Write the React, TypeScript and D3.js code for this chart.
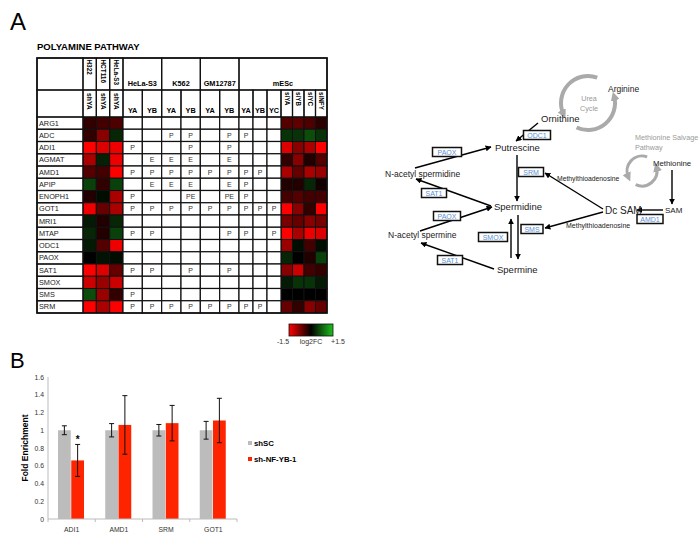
import * as d3 from "d3";

// ---- heatmap / table data ----
const genes = ["ARG1","ADC","ADI1","AGMAT","AMD1","APIP","ENOPH1","GOT1","MRI1","MTAP","ODC1","PAOX","SAT1","SMOX","SMS","SRM"];
const knockLines = ["H322","HCT116","HeLa-S3"];
// log2FC for shYA in each line (rows follow genes)
const knockFC = [
  [-0.3,-0.4,-0.45],[-0.3,-0.8,0.3],[-1.5,-1.3,-1.4],[-1.0,0.25,-1.4],
  [-0.5,-0.4,-1.5],[0.5,-0.3,0.5],[-0.2,0.1,-1.0],[-1.4,-0.6,-1.0],
  [0.2,-0.2,0.3],[0.3,-0.2,0.5],[0.2,-0.5,-1.4],[0,0.15,0.1],
  [-1.5,-1.3,-0.6],[-1.2,-0.9,-1.2],[0.6,-0.9,-0.3],[-1.5,-1.0,-1.5],
];
const mescSi = ["siYA","siYB","siYC","siNFY"];
const mescFC = [
  [-0.5,-0.55,-0.45,-0.25],[0.4,0.4,0.6,0.4],[-1.3,-0.8,-1.0,-1.5],[-0.3,-0.8,-0.2,-0.5],
  [-1.0,-0.6,-1.0,-0.9],[-0.2,-0.2,0.3,-0.1],[-0.4,-0.5,-0.4,-0.4],[-1.5,-0.8,-0.3,-1.5],
  [-0.7,-0.6,-0.8,-0.7],[-1.5,-1.0,-1.4,-1.3],[-0.9,0.1,-0.4,0.1],[0.3,0,-0.2,0.5],
  [-0.8,-1.2,-0.4,-0.3],[0.2,0.4,0.4,0.2],[0,0,0,0],[-0.6,-0.3,-0.8,-0.6],
];
const chipGroups = ["HeLa-S3","K562","GM12787"];
const chipSub = ["YA","YB"];
const mescSub = ["YA","YB","YC"];
// ChIP calls: HeLa YA,YB, K562 YA,YB, GM YA,YB, mESc YA,YB,YC
const chipCalls = [
  ["","","","","","","","",""],
  ["","","P","P","","P","P","",""],
  ["P","","","P","","P","","",""],
  ["","E","E","E","","E","","",""],
  ["P","P","P","P","P","P","P","P",""],
  ["","E","E","E","","E","P","",""],
  ["P","","","PE","","PE","P","",""],
  ["P","P","P","P","P","P","P","P","P"],
  ["","","","","","","","",""],
  ["P","P","","","","P","P","","P"],
  ["","","","","","","","",""],
  ["","","","","","","","",""],
  ["P","P","","P","","P","","",""],
  ["","","","","","","","",""],
  ["P","","","","","","","",""],
  ["P","P","P","P","P","P","P","P",""],
];

// ---- bar chart data ----
const barGenes = ["ADI1","AMD1","SRM","GOT1"];
const seriesNames = ["shSC","sh-NF-YB-1"];
const shSC = [1.0,1.0,1.0,1.0];
const shSCErr = [0.05,0.075,0.065,0.1];
const shYB = [0.66,1.06,1.08,1.11];
const shYBErr = [0.18,0.33,0.2,0.25];
const yTicks = [0,0.2,0.4,0.6,0.8,1,1.2,1.4,1.6];

// ---- pathway diagram ----
const metabolites = [
  { t: "Arginine", x: 608, y: 92, s: 8.5 },
  { t: "Ornithine", x: 541, y: 122, s: 9.5 },
  { t: "Putrescine", x: 495, y: 151, s: 9.5 },
  { t: "N-acetyl spermidine", x: 385, y: 177, s: 8.5 },
  { t: "Spermidine", x: 494, y: 210, s: 9.5 },
  { t: "N-acetyl spermine", x: 388, y: 238, s: 8.5 },
  { t: "Spermine", x: 497, y: 273, s: 9.5 },
  { t: "Methylthioadenosine", x: 557, y: 181, s: 6.8 },
  { t: "Methylthioadenosine", x: 566, y: 228, s: 7 },
  { t: "Dc SAM", x: 605, y: 214, s: 10 },
  { t: "SAM", x: 665, y: 213, s: 8 },
  { t: "Methionine", x: 653, y: 166, s: 7.8 },
];
const grayLabels = [
  { t: "Urea", x: 589, y: 101, a: "middle" },
  { t: "Cycle", x: 589, y: 111, a: "middle" },
  { t: "Methionine Salvage", x: 635, y: 140, a: "start" },
  { t: "Pathway", x: 635, y: 150, a: "start" },
];
const enzymes = [
  { t: "ODC1", cx: 537, cy: 135, w: 27 },
  { t: "PAOX", cx: 447, cy: 152, w: 29 },
  { t: "SRM", cx: 531, cy: 172, w: 25 },
  { t: "SAT1", cx: 434, cy: 193, w: 25 },
  { t: "PAOX", cx: 447, cy: 216, w: 27 },
  { t: "SMOX", cx: 493, cy: 237, w: 29 },
  { t: "SMS", cx: 532, cy: 229, w: 22 },
  { t: "SAT1", cx: 450, cy: 260, w: 25 },
  { t: "AMD1", cx: 650, cy: 219, w: 26 },
];
const arrows = [
  [538,123,516,141],[517,155,517,201],[415,168,491,147],[491,206,416,179],
  [420,231,492,207],[494,269,421,243],[511,258,511,219],[518,215,518,259],
  [603,209,545,173],[603,212,545,228],[672,170,672,204],[663,210,637,210],
];
const cycles = [
  { cx: 588, cy: 103, r: 27 },
  { cx: 642, cy: 171, r: 15 },
];

const FONT = "Liberation Sans, Arial, sans-serif";

function arcPath(cx: number, cy: number, r: number, a0: number, a1: number) {
  const p = d3.path();
  p.arc(cx, cy, r, (a0 * Math.PI) / 180, (a1 * Math.PI) / 180, a1 < a0);
  return p.toString();
}

export default function App() {
  const color = d3.scaleLinear<string>().domain([-1.5, 0, 1.5]).range(["#ff0000", "#000000", "#1fc01f"]).clamp(true);

  // table geometry
  const tL = 37, tR = 327, labelR = 83, h1 = 58, h2 = 90, h3 = 117, tB = 313;
  const yRow = d3.scaleBand().domain(genes).range([h3, tB]);
  const xKnock = d3.scaleBand().domain(knockLines).range([labelR, 123]);
  const chipKeys = chipGroups.flatMap(g => chipSub.map(s => g + "|" + s));
  const xChip = d3.scaleBand().domain(chipKeys).range([123, 239]);
  const xMescSub = d3.scaleBand().domain(mescSub).range([239, 281]);
  const xMescSi = d3.scaleBand().domain(mescSi).range([281, tR]);

  const textCols = [
    ...chipKeys.map(k => ({ x: xChip(k)!, w: xChip.bandwidth() })),
    ...mescSub.map(k => ({ x: xMescSub(k)!, w: xMescSub.bandwidth() })),
  ];

  // bar chart geometry
  const y = d3.scaleLinear().domain([0, 1.6]).range([519, 377]);
  const x0 = d3.scaleBand().domain(barGenes).range([48, 237]);
  const x1 = d3.scaleBand().domain(seriesNames).range([10, 36]).paddingInner(0.04);
  const barVals = [shSC, shYB];
  const barErrs = [shSCErr, shYBErr];
  const barColors = ["#bcbcbc", "#ff2400"];

  const lineStroke = "#111";

  return (
    <div style={{ position: "absolute", left: 0, top: 0 }}>
      <svg width={700} height={538} style={{ display: "block", background: "#fff", fontFamily: FONT }}>
        <defs>
          <marker id="ah" viewBox="0 0 10 10" refX="9" refY="5" markerWidth="6" markerHeight="6" markerUnits="userSpaceOnUse" orient="auto">
            <path d="M0,0 L10,5 L0,10 z" fill="#000" />
          </marker>
          <marker id="ahg" viewBox="0 0 10 10" refX="5" refY="5" markerWidth="9" markerHeight="9" markerUnits="userSpaceOnUse" orient="auto">
            <path d="M0,0 L10,5 L0,10 z" fill="#aaa" />
          </marker>
          <linearGradient id="lg" x1="0" x2="1" y1="0" y2="0">
            <stop offset="0%" stopColor={color(-1.5)} />
            <stop offset="50%" stopColor={color(0)} />
            <stop offset="100%" stopColor={color(1.5)} />
          </linearGradient>
        </defs>

        {/* Panel A */}
        <text x={10} y={30} fontSize={24}>A</text>
        <text x={37} y={50} fontSize={9.5} fontWeight="bold">POLYAMINE PATHWAY</text>

        {/* heat cells */}
        {genes.map((g, i) => (
          <g key={g}>
            {knockLines.map((l, j) => (
              <rect key={l} x={xKnock(l)} y={yRow(g)} width={xKnock.bandwidth()} height={yRow.bandwidth()} fill={color(knockFC[i][j])} stroke={lineStroke} strokeWidth={1} />
            ))}
            {mescSi.map((l, j) => (
              <rect key={l} x={xMescSi(l)} y={yRow(g)} width={xMescSi.bandwidth()} height={yRow.bandwidth()} fill={color(mescFC[i][j])} stroke={lineStroke} strokeWidth={1} />
            ))}
            <rect x={tL} y={yRow(g)} width={labelR - tL} height={yRow.bandwidth()} fill="none" stroke={lineStroke} strokeWidth={1.2} />
            <text x={tL + 2} y={yRow(g)! + yRow.bandwidth() / 2 + 2.6} fontSize={7.3} fill="#222">{g}</text>
            {textCols.map((c, j) => (
              <g key={j}>
                <rect x={c.x} y={yRow(g)} width={c.w} height={yRow.bandwidth()} fill="#fff" stroke={lineStroke} strokeWidth={1.2} />
                <text x={c.x + c.w / 2} y={yRow(g)! + yRow.bandwidth() / 2 + 2.5} fontSize={7} textAnchor="middle" fill="#333">{chipCalls[i][j]}</text>
              </g>
            ))}
          </g>
        ))}

        {/* header row 1 */}
        <rect x={tL} y={h1} width={labelR - tL} height={h2 - h1} fill="none" stroke={lineStroke} strokeWidth={1.2} />
        <rect x={tL} y={h2} width={labelR - tL} height={h3 - h2} fill="none" stroke={lineStroke} strokeWidth={1.2} />
        {knockLines.map(l => (
          <g key={l}>
            <rect x={xKnock(l)} y={h1} width={xKnock.bandwidth()} height={h2 - h1} fill="none" stroke={lineStroke} strokeWidth={1.2} />
            <rect x={xKnock(l)} y={h2} width={xKnock.bandwidth()} height={h3 - h2} fill="none" stroke={lineStroke} strokeWidth={1.2} />
            <text transform={`translate(${xKnock(l)! + xKnock.bandwidth() / 2},${h1 + 1.5}) rotate(90)`} fontSize={6.4} fontWeight="bold" dy="0.35em">{l}</text>
            <text transform={`translate(${xKnock(l)! + xKnock.bandwidth() / 2},${h2 + 3}) rotate(90)`} fontSize={6.8} fontWeight="bold" dy="0.35em">shYA</text>
          </g>
        ))}
        {chipGroups.map(gname => {
          const x = xChip(gname + "|YA")!;
          const w = xChip.bandwidth() * 2;
          return (
            <g key={gname}>
              <rect x={x} y={h1} width={w} height={h2 - h1} fill="none" stroke={lineStroke} strokeWidth={1.2} />
              <text x={x + w / 2} y={h2 - 4} fontSize={7.3} fontWeight="bold" textAnchor="middle">{gname}</text>
              {chipSub.map(s => (
                <g key={s}>
                  <rect x={xChip(gname + "|" + s)} y={h2} width={xChip.bandwidth()} height={h3 - h2} fill="none" stroke={lineStroke} strokeWidth={1.2} />
                  <text x={xChip(gname + "|" + s)! + xChip.bandwidth() / 2} y={h3 - 4} fontSize={7.3} fontWeight="bold" textAnchor="middle">{s}</text>
                </g>
              ))}
            </g>
          );
        })}
        <rect x={239} y={h1} width={tR - 239} height={h2 - h1} fill="none" stroke={lineStroke} strokeWidth={1.2} />
        <text x={(239 + tR) / 2} y={h2 - 4} fontSize={7.3} fontWeight="bold" textAnchor="middle">mESc</text>
        {mescSub.map(s => (
          <g key={s}>
            <rect x={xMescSub(s)} y={h2} width={xMescSub.bandwidth()} height={h3 - h2} fill="none" stroke={lineStroke} strokeWidth={1.2} />
            <text x={xMescSub(s)! + xMescSub.bandwidth() / 2} y={h3 - 4} fontSize={7.3} fontWeight="bold" textAnchor="middle">{s}</text>
          </g>
        ))}
        {mescSi.map(s => (
          <g key={s}>
            <rect x={xMescSi(s)} y={h2} width={xMescSi.bandwidth()} height={h3 - h2} fill="none" stroke={lineStroke} strokeWidth={1.2} />
            <text transform={`translate(${xMescSi(s)! + xMescSi.bandwidth() / 2},${h2 + 2}) rotate(90)`} fontSize={6.3} fontWeight="bold" dy="0.35em">{s}</text>
          </g>
        ))}
        <rect x={tL} y={h1} width={tR - tL} height={tB - h1} fill="none" stroke={lineStroke} strokeWidth={1.6} />

        {/* color legend */}
        <rect x={289} y={324} width={44} height={12} fill="url(#lg)" stroke="#111" strokeWidth={0.8} />
        <text x={283} y={344} fontSize={7} textAnchor="middle" fill="#333">-1.5</text>
        <text x={311} y={344} fontSize={7} textAnchor="middle" fill="#333">log2FC</text>
        <text x={338} y={344} fontSize={7} textAnchor="middle" fill="#333">+1.5</text>

        {/* pathway cycles */}
        {cycles.map((c, i) => (
          <g key={i} fill="none" stroke="#aaa" strokeWidth={c.r > 20 ? 4 : 3}>
            <path d={arcPath(c.cx, c.cy, c.r, -70, -205)} markerEnd="url(#ahg)" />
            <path d={arcPath(c.cx, c.cy, c.r, 115, -15)} markerEnd="url(#ahg)" />
          </g>
        ))}
        {grayLabels.map((t, i) => (
          <text key={i} x={t.x} y={t.y} fontSize={7.2} fill="#999" textAnchor={t.a}>{t.t}</text>
        ))}
        {arrows.map((a, i) => (
          <line key={i} x1={a[0]} y1={a[1]} x2={a[2]} y2={a[3]} stroke="#000" strokeWidth={1.4} markerEnd="url(#ah)" />
        ))}
        {metabolites.map((m, i) => (
          <text key={i} x={m.x} y={m.y} fontSize={m.s} fill="#222">{m.t}</text>
        ))}
        {enzymes.map((e, i) => (
          <g key={i}>
            <rect x={e.cx - e.w / 2} y={e.cy - 4.5} width={e.w} height={9} fill="#fff" stroke="#111" strokeWidth={1.5} />
            <text x={e.cx} y={e.cy + 2.5} fontSize={7} textAnchor="middle" fill="#5a8fd6">{e.t}</text>
          </g>
        ))}

        {/* Panel B */}
        <text x={10} y={368} fontSize={22}>B</text>
        <line x1={48} x2={48} y1={377} y2={519} stroke="#bbb" strokeWidth={1} />
        {yTicks.map(t => (
          <text key={t} x={44} y={y(t) + 2.5} fontSize={6.8} textAnchor="end" fill="#333">{d3.format("~g")(t)}</text>
        ))}
        <text transform={`translate(28,${(377 + 519) / 2}) rotate(-90)`} fontSize={8.5} fontWeight="bold" textAnchor="middle">Fold Enrichment</text>
        {barGenes.map((g, i) => (
          <g key={g} transform={`translate(${x0(g)},0)`}>
            {seriesNames.map((s, k) => {
              const v = barVals[k][i], e = barErrs[k][i];
              const cx = x1(s)! + x1.bandwidth() / 2;
              return (
                <g key={s}>
                  <rect x={x1(s)} y={y(v)} width={x1.bandwidth()} height={y(0) - y(v)} fill={barColors[k]} />
                  <line x1={cx} x2={cx} y1={y(v + e)} y2={y(v - e)} stroke="#111" strokeWidth={1} />
                  <line x1={cx - 2.5} x2={cx + 2.5} y1={y(v + e)} y2={y(v + e)} stroke="#111" strokeWidth={1} />
                  <line x1={cx - 2.5} x2={cx + 2.5} y1={y(v - e)} y2={y(v - e)} stroke="#111" strokeWidth={1} />
                </g>
              );
            })}
            <text x={x0.bandwidth() / 2} y={532} fontSize={6.8} textAnchor="middle" fill="#333">{g}</text>
          </g>
        ))}
        <line x1={48} x2={237} y1={519} y2={519} stroke="#bbb" strokeWidth={1} />
        {[...barGenes.map(g => x0(g)!), 237].map((t, i) => (
          <line key={i} x1={t} x2={t} y1={519} y2={522} stroke="#bbb" strokeWidth={1} />
        ))}
        <text x={x0("ADI1")! + x1("sh-NF-YB-1")! + x1.bandwidth() / 2} y={y(0.86)} fontSize={10} fontWeight="bold" textAnchor="middle">*</text>

        {seriesNames.map((s, k) => (
          <g key={s} transform={`translate(248,${441 + k * 16})`}>
            <rect x={0} y={0} width={4} height={4} fill={barColors[k]} />
            <text x={6} y={5} fontSize={7.8} fontWeight="bold">{s}</text>
          </g>
        ))}
      </svg>
    </div>
  );
}
